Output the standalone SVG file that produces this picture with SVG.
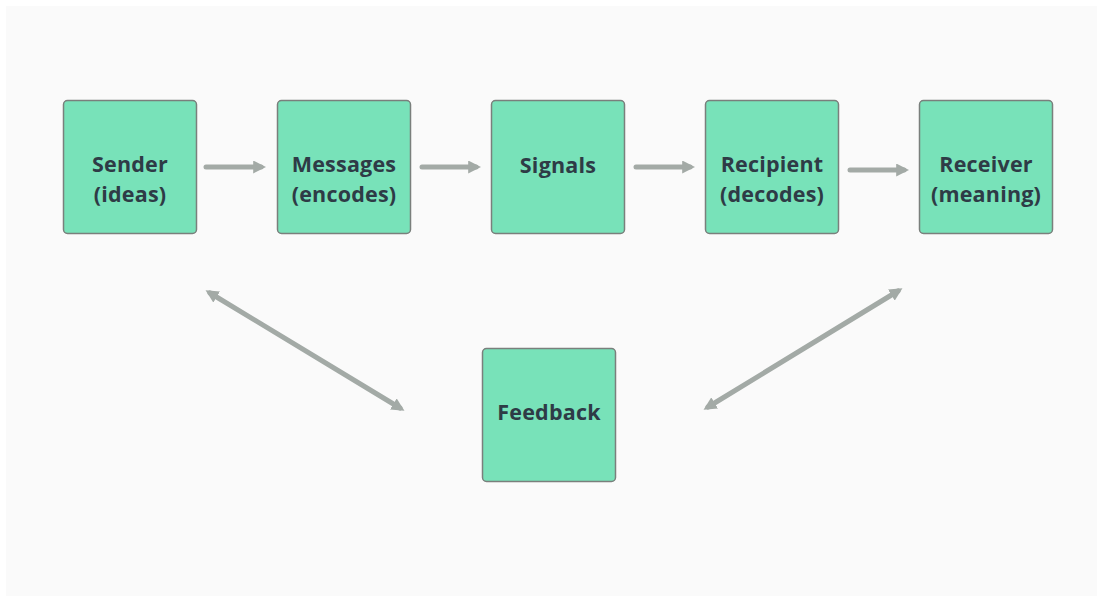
<svg xmlns="http://www.w3.org/2000/svg" width="1103" height="602" viewBox="0 0 1103 602">
  <style>
    .box { fill: #78e2b9; stroke: #7a7f7c; stroke-width: 1.5; }
    .lbl { font-family: "Open Sans", "Noto Sans", "Liberation Sans", sans-serif; font-weight: 700; font-size: 21.5px; fill: #2e3b46; text-anchor: middle; letter-spacing: 0.2px; }
    .link { stroke: #a3aaa6; stroke-width: 5; fill: none; stroke-linecap: round; }
  </style>
  <defs>
    <marker id="head" viewBox="0 0 10 10" refX="6" refY="5" markerWidth="2.6" markerHeight="2.6" orient="auto-start-reverse" markerUnits="strokeWidth">
      <path d="M0,0 L10,5 L0,10 z" fill="#a3aaa6"/>
    </marker>
  </defs>
  <rect x="0" y="0" width="1103" height="602" fill="#ffffff"/>
  <rect x="6" y="6" width="1091" height="590" fill="#fafafa"/>

  <g id="connectors">
    <line class="link" x1="206" y1="167" x2="261" y2="167" marker-end="url(#head)"/>
    <line class="link" x1="422" y1="167" x2="476" y2="167" marker-end="url(#head)"/>
    <line class="link" x1="636" y1="167" x2="690" y2="167" marker-end="url(#head)"/>
    <line class="link" x1="850" y1="170" x2="904" y2="170" marker-end="url(#head)"/>
    <line class="link" x1="210" y1="293" x2="400" y2="408" marker-start="url(#head)" marker-end="url(#head)"/>
    <line class="link" x1="898" y1="291" x2="708" y2="407" marker-start="url(#head)" marker-end="url(#head)"/>
  </g>

  <g id="sender">
    <rect class="box" x="63.5" y="100.5" width="133" height="133" rx="4"/>
    <text class="lbl" x="130" y="172">Sender</text>
    <text class="lbl" x="130" y="202">(ideas)</text>
  </g>
  <g id="messages">
    <rect class="box" x="277.5" y="100.5" width="133" height="133" rx="4"/>
    <text class="lbl" x="344" y="172">Messages</text>
    <text class="lbl" x="344" y="202">(encodes)</text>
  </g>
  <g id="signals">
    <rect class="box" x="491.5" y="100.5" width="133" height="133" rx="4"/>
    <text class="lbl" x="558" y="173">Signals</text>
  </g>
  <g id="recipient">
    <rect class="box" x="705.5" y="100.5" width="133" height="133" rx="4"/>
    <text class="lbl" x="772" y="172">Recipient</text>
    <text class="lbl" x="772" y="202">(decodes)</text>
  </g>
  <g id="receiver">
    <rect class="box" x="919.5" y="100.5" width="133" height="133" rx="4"/>
    <text class="lbl" x="986" y="172">Receiver</text>
    <text class="lbl" x="986" y="202">(meaning)</text>
  </g>
  <g id="feedback">
    <rect class="box" x="482.5" y="348.5" width="133" height="133" rx="4"/>
    <text class="lbl" x="549" y="420">Feedback</text>
  </g>
</svg>
